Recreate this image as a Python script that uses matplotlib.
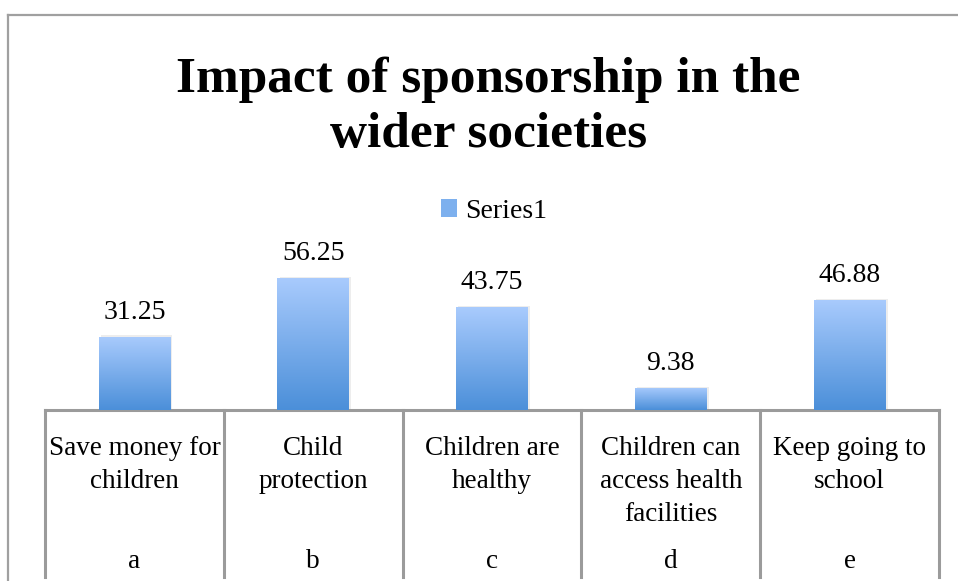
import numpy as np
import matplotlib
matplotlib.use("Agg")
import matplotlib.pyplot as plt
import matplotlib.transforms as mtransforms
from matplotlib.lines import Line2D
from matplotlib.patches import Rectangle
from matplotlib.colors import LinearSegmentedColormap

# Chart data
title = "Impact of sponsorship in the\nwider societies"
series_name = "Series1"
letters = ["a", "b", "c", "d", "e"]
descriptions = ["Save money for\nchildren", "Child\nprotection", "Children are\nhealthy",
                "Children can\naccess health\nfacilities", "Keep going to\nschool"]
values = [31.25, 56.25, 43.75, 9.38, 46.88]

W, H = 958, 581
fig = plt.figure(figsize=(W / 100, H / 100), dpi=100)
fig.patch.set_facecolor("white")

# axes placed in pixel terms: baseline at y=410, x from 45 to 939
ymax = 60
px_per_unit = 2.347
ax_h = ymax * px_per_unit
ax = fig.add_axes([45 / W, (H - 410) / H, (939 - 45) / W, ax_h / H])
ax.set_xlim(0, len(values))
ax.set_ylim(0, ymax)
for s in ["top", "left", "right"]:
    ax.spines[s].set_visible(False)
ax.spines["bottom"].set_color("#9b9b9b")
ax.spines["bottom"].set_linewidth(2.2)
ax.set_xticks([])
ax.set_yticks([])
ax.patch.set_alpha(0)

serif = "Liberation Serif"
grad = LinearSegmentedColormap.from_list("bar", ["#4b8fd9", "#a9cbfd"])
gradient = np.linspace(0, 1, 256).reshape(-1, 1)

x = np.arange(len(values)) + 0.5
bars = ax.bar(x, values, width=0.4, color="none", edgecolor="none", zorder=3)
for b, v in zip(bars, values):
    x0, w = b.get_x(), b.get_width()
    # faint shadow
    ax.add_patch(Rectangle((x0 + 0.012, 0), w, v + 0.5, color="#000000", alpha=0.07,
                           lw=0, zorder=2))
    im = ax.imshow(gradient, cmap=grad, aspect="auto", origin="lower",
                   extent=(x0, x0 + w, 0, v), zorder=3)
    im.set_clip_path(b)
    ax.annotate(f"{v:.2f}", (b.get_x() + w / 2, v), xytext=(0, 13),
                textcoords="offset points", ha="center", va="baseline",
                fontsize=20, family=serif, color="#000000")

# category dividers below the axis
btrans = mtransforms.blended_transform_factory(ax.transData, fig.transFigure)
for i in range(len(values) + 1):
    ax.add_line(Line2D([i, i], [(H - 410) / H, (H - 577) / H], transform=btrans,
                       color="#9b9b9b", lw=2.2, clip_on=False))

for xi, d, l in zip(x, descriptions, letters):
    ax.text(xi, (H - 436) / H, d, transform=btrans, ha="center", va="top",
            fontsize=19.5, family=serif, linespacing=1.43, multialignment="center")
    ax.text(xi, (H - 568) / H, l, transform=btrans, ha="center", va="baseline",
            fontsize=19.5, family=serif)

# title
fig.text(0.51, (H - 57) / H, title, ha="center", va="top", fontsize=37,
         fontweight="bold", family=serif, linespacing=1.25)

# legend
handle = Rectangle((0, 0), 1, 1, facecolor="#7db0ee", edgecolor="none")
fig.legend([handle], [series_name], loc="center", bbox_to_anchor=(494 / W, (H - 211) / H),
           frameon=False, prop={"family": serif, "size": 20}, handlelength=0.6,
           handleheight=0.6, handletextpad=0.3)

# chart frame (top and left edges visible)
fig.add_artist(Line2D([8 / W, 1], [(H - 15) / H, (H - 15) / H], color="#a0a0a0", lw=1.6))
fig.add_artist(Line2D([8 / W, 8 / W], [(H - 15) / H, 0], color="#a0a0a0", lw=1.6))

fig.savefig("out.png", dpi=100)
